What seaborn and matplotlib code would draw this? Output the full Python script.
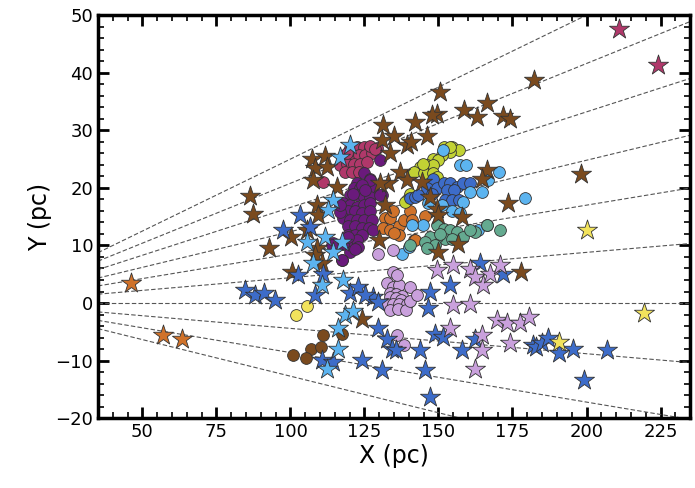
import numpy as np
import matplotlib
matplotlib.use("Agg")
import matplotlib.pyplot as plt
from matplotlib.ticker import MultipleLocator
import seaborn as sns

# slopes of the dashed guide lines (through the origin)
guide_slopes = [0.250, 0.208, 0.166, 0.124, 0.085, 0.044, 0.0, -0.044, -0.086, -0.127]

# ---- circles (cluster members) ----
rasp_c_x = [120.2, 122.4, 124.7, 126.9, 129.2, 118.5, 120.7, 123.0, 125.2, 127.5, 116.8, 119.0, 121.3,
            123.5, 125.8, 118.5, 120.7, 123.0, 126.9, 128.6, 119.0, 111.1]
rasp_c_y = [26.9, 27.1, 27.1, 27.1, 26.9, 25.7, 25.7, 25.7, 25.7, 26.0, 24.0, 24.2, 24.2,
            24.2, 24.5, 22.8, 22.8, 22.8, 27.2, 26.8, 26.0, 21.0]

purple_x = [130.3, 124.7, 126.9, 122.4, 121.3, 123.5, 125.8, 128.0, 130.9, 120.2, 122.4, 124.7, 126.9,
            117.9, 120.2, 122.4, 124.7, 126.9, 117.3, 119.6, 121.8, 124.1, 126.9, 117.9, 120.2, 122.4,
            124.7, 127.5, 119.6, 121.8, 124.1, 126.4, 128.0, 119.6, 121.8, 124.1, 120.2, 122.4, 120.2,
            117.3, 114.5, 126.9, 117.9, 117.3, 113.9, 119.6, 122.9, 121.8, 116.8, 116.8, 121.2, 124.1,
            125.2, 130.3]
purple_y = [24.8, 22.5, 21.6, 20.8, 19.9, 19.9, 19.9, 20.2, 18.7, 18.7, 18.7, 18.5, 18.5,
            17.3, 17.0, 16.7, 17.0, 17.3, 15.9, 15.9, 15.9, 15.6, 15.9, 14.7, 14.4, 14.4,
            14.4, 14.4, 13.3, 13.3, 13.0, 13.0, 12.7, 11.8, 11.8, 11.8, 10.4, 11.0, 8.9,
            7.5, 10.4, 21.3, 10.3, 7.4, 10.0, 11.5, 9.8, 9.3, 15.8, 17.0, 19.0, 20.5,
            19.6, 18.7]

orange_c_x = [132.0, 133.7, 134.8, 131.4, 133.7, 136.5, 136.5, 138.2, 140.4, 141.0, 141.6, 145.5, 142.1, 135.0]
orange_c_y = [14.7, 14.7, 15.9, 13.0, 12.7, 13.3, 11.8, 14.4, 15.9, 14.4, 10.9, 15.1, 10.9, 12.2]

ygreen_x = [151.7, 154.5, 156.8, 153.9, 151.1, 148.3, 150.0, 146.1, 148.3, 143.8, 141.6, 145.0, 148.3,
            149.4, 140.4, 139.3, 138.7, 153.9, 144.9]
ygreen_y = [27.1, 27.1, 26.6, 26.3, 25.7, 25.1, 24.8, 24.0, 24.0, 23.7, 22.8, 22.6, 22.5,
            21.9, 19.0, 17.9, 17.6, 27.1, 24.2]

blue_c_x = [148.3, 146.1, 149.4, 151.7, 153.9, 156.2, 158.4, 160.7, 152.8, 155.1, 140.4, 142.1, 143.2,
            152.3, 154.5, 156.8, 147.7]
blue_c_y = [21.6, 19.9, 19.9, 20.8, 20.8, 20.2, 20.8, 20.8, 19.6, 19.6, 18.2, 18.5, 18.7,
            17.9, 17.9, 17.9, 19.0]

lblue_c_x = [151.4, 157.3, 159.3, 170.3, 166.8, 179.3, 146.6, 151.1, 158.4, 160.7, 164.6, 154.5, 157.3,
             144.9, 141.0, 137.6, 139.9, 163.5, 166.3]
lblue_c_y = [26.5, 24.0, 24.0, 22.8, 21.3, 18.3, 17.3, 17.0, 17.6, 19.3, 19.3, 15.9, 15.6,
             13.5, 13.5, 8.6, 9.8, 12.7, 13.5]

teal_x = [149.4, 151.7, 153.9, 156.2, 158.4, 152.3, 154.5, 149.4, 147.2, 145.5, 148.9, 140.4, 166.3,
          162.4, 160.7, 170.8, 150.5, 146.0]
teal_y = [13.5, 12.9, 12.7, 12.4, 11.5, 11.2, 11.2, 11.5, 11.5, 10.6, 10.1, 10.1, 13.5,
          12.4, 12.7, 12.7, 12.0, 9.5]

lav_c_x = [132.5, 134.8, 136.5, 133.6, 135.8, 137.8, 140.4, 134.8, 136.0, 133.6, 135.5, 137.5, 132.5,
           134.5, 136.8, 139.3, 133.6, 136.2, 139.0, 140.5, 142.6, 135.9, 138.2, 129.7, 134.8]
lav_c_y = [3.4, 2.8, 3.2, 1.7, 1.5, 1.2, 2.8, 5.4, 4.9, 1.1, 0.8, 0.5, -0.1,
           -0.2, -0.1, -0.1, -1.2, -1.0, -1.2, 0.3, 1.4, -5.6, -7.3, 8.6, 9.2]

brown_c_x = [111.1, 117.3, 106.9, 110.2, 101.0, 105.3]
brown_c_y = [-5.6, -5.3, -7.9, -7.6, -9.1, -9.6]

yellow_c_x = [105.7, 101.9]
yellow_c_y = [-0.5, -2.1]

# ---- stars (field objects) ----
brown_s_x = [86.4, 87.5, 92.9, 100.2, 100.4, 105.5, 108.9, 108.3, 110.6, 107.2, 111.7, 108.3, 112.3,
             107.7, 115.6, 108.9, 109.4, 124.1, 129.9, 131.2, 130.8, 135.0, 139.3, 140.6, 146.0,
             133.6, 142.1, 150.5, 149.4, 147.7, 158.6, 162.9, 166.3, 171.9, 174.0, 182.4, 137.0,
             133.1, 130.3, 139.3, 144.3, 132.0, 147.2, 149.4, 150.0, 157.9, 156.7, 150.0, 166.3,
             164.6, 173.6, 198.1, 178.0]
brown_s_y = [18.6, 15.4, 9.6, 11.4, 5.4, 12.7, 9.5, 8.3, 6.9, 25.1, 25.5, 23.4, 23.7,
             21.3, 20.2, 17.0, 15.3, -2.7, 11.0, 31.0, 28.4, 29.0, 27.4, 28.0, 29.0,
             26.0, 31.5, 36.7, 32.9, 32.6, 33.5, 32.3, 34.7, 32.5, 32.0, 38.8, 22.8,
             20.8, 20.8, 21.3, 21.0, 17.0, 18.4, 16.4, 15.3, 15.0, 10.3, 8.9, 23.1,
             21.6, 17.4, 22.4, 5.4]

blue_s_x = [84.7, 88.0, 91.2, 94.8, 97.6, 103.2, 106.6, 102.7, 111.1, 108.3, 120.1, 122.9, 128.0,
            147.2, 153.9, 164.0, 171.9, 125.3, 129.7, 146.6, 129.7, 132.5, 134.2, 135.8, 143.8,
            148.9, 151.6, 157.8, 162.4, 124.1, 130.8, 145.5, 147.2, 110.6, 114.5, 181.8, 183.0,
            185.0, 187.0, 190.7, 195.4, 206.8, 199.3]
blue_s_y = [2.2, 1.4, 1.8, 0.5, 12.7, 15.3, 13.2, 4.8, 5.1, 1.4, 1.7, 2.8, 1.1,
            1.9, 3.1, 6.9, 5.1, 1.4, 0.2, -0.9, -4.4, -6.2, -7.9, -8.1, -8.2,
            -5.3, -5.9, -8.2, -6.2, -9.9, -11.7, -11.7, -16.3, -9.9, -10.2, -7.3, -7.6,
            -7.0, -6.1, -8.6, -8.0, -8.2, -13.3]

lblue_s_x = [120.1, 116.8, 114.5, 112.8, 111.7, 117.3, 105.5, 107.7, 114.5, 110.6, 117.9, 118.4, 121.1,
             116.2, 116.2, 112.3]
lblue_s_y = [27.4, 25.4, 17.9, 16.1, 11.5, 10.6, 10.6, 6.9, 8.9, 3.1, 4.0, -2.1, -1.4,
             -4.4, -7.9, -11.4]

lav_s_x = [149.4, 155.0, 160.6, 162.4, 165.2, 167.4, 170.8, 155.0, 160.7, 153.9, 164.6, 164.6, 162.4,
           169.7, 173.1, 177.7, 180.6, 174.0]
lav_s_y = [5.7, 6.6, 5.9, 4.5, 3.1, 5.1, 6.6, -0.4, -0.1, -4.4, -5.6, -8.2, -11.4,
           -3.0, -3.4, -3.4, -2.5, -7.0]

yellow_s_x = [200.2, 219.5, 190.8]
yellow_s_y = [12.7, -1.8, -6.8]

orange_s_x = [46.2, 57.1, 63.5]
orange_s_y = [3.5, -5.5, -6.2]

rasp_s_x = [210.9, 224.0]
rasp_s_y = [47.6, 41.3]

BROWN = "#7a4a1e"
BLUE = "#3d6cc9"
LBLUE = "#5cb4f0"
LAV = "#c9a0dc"
YEL = "#f2e35c"
ORA = "#d0722a"
RASP = "#b0386a"
PURP = "#6a1a7c"
YGRN = "#c2d234"
TEAL = "#64aa90"

sns.set_style("ticks", {"axes.edgecolor": "black", "xtick.color": "black", "ytick.color": "black",
                        "text.color": "black", "axes.labelcolor": "black"})
plt.rcParams['font.family'] = ['DejaVu Sans']

fig, ax = plt.subplots(figsize=(6.95, 4.88), dpi=100)
fig.subplots_adjust(left=0.141, right=0.993, bottom=0.143, top=0.969)

for s in guide_slopes:
    ax.axline((0, 0), slope=s, color="#555555", lw=0.8, ls=(0, (4, 2)), zorder=1)

circle_groups = [
    (rasp_c_x, rasp_c_y, RASP), (purple_x, purple_y, PURP), (orange_c_x, orange_c_y, ORA),
    (ygreen_x, ygreen_y, YGRN), (blue_c_x, blue_c_y, BLUE), (lblue_c_x, lblue_c_y, LBLUE),
    (teal_x, teal_y, TEAL), (lav_c_x, lav_c_y, LAV), (brown_c_x, brown_c_y, BROWN),
    (yellow_c_x, yellow_c_y, YEL),
]
for gx, gy, col in circle_groups:
    sns.scatterplot(x=gx, y=gy, color=col, marker="o", s=72, edgecolor="#333333",
                    linewidth=0.6, ax=ax, zorder=2, legend=False)

star_groups = [
    (brown_s_x, brown_s_y, BROWN), (blue_s_x, blue_s_y, BLUE), (lblue_s_x, lblue_s_y, LBLUE),
    (lav_s_x, lav_s_y, LAV), (yellow_s_x, yellow_s_y, YEL), (orange_s_x, orange_s_y, ORA),
    (rasp_s_x, rasp_s_y, RASP),
]
for gx, gy, col in star_groups:
    sns.scatterplot(x=gx, y=gy, color=col, marker="*", s=230, edgecolor="#333333",
                    linewidth=0.6, ax=ax, zorder=3, legend=False)

ax.set_xlim(35, 235)
ax.set_ylim(-20, 50)
ax.xaxis.set_major_locator(MultipleLocator(25))
ax.xaxis.set_minor_locator(MultipleLocator(5))
ax.yaxis.set_major_locator(MultipleLocator(10))
ax.yaxis.set_minor_locator(MultipleLocator(2))
ax.tick_params(which="both", direction="in", top=True, right=True, labelsize=13, colors="black")
ax.tick_params(which="major", length=8, width=2)
ax.tick_params(which="minor", length=4, width=1.2)
for sp in ax.spines.values():
    sp.set_linewidth(2.5)
    sp.set_color("black")

ax.set_xlabel("X (pc)", fontsize=17, labelpad=2, color="black")
ax.set_ylabel("Y (pc)", fontsize=17, labelpad=2, color="black")

fig.savefig("out.png", dpi=100)
